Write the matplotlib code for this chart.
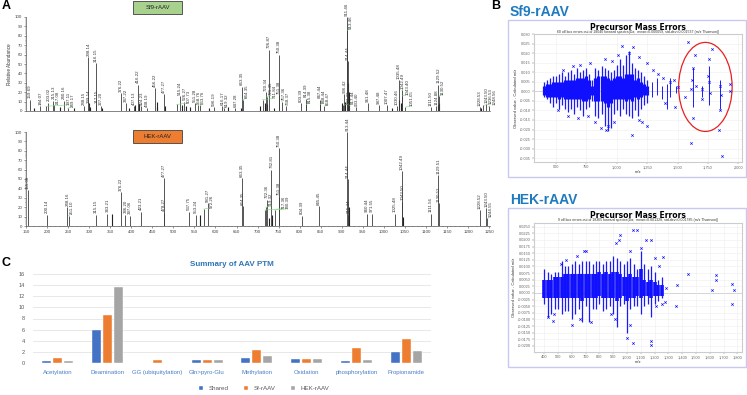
import matplotlib.pyplot as plt
from matplotlib.patches import Rectangle, Ellipse
from matplotlib.ticker import MultipleLocator, FuncFormatter

plt.rcParams['font.family'] = ['Liberation Sans', 'DejaVu Sans']

W, H = 747, 395

# ---------------- data ----------------
# panel A, Sf9-rAAV spectrum (m/z, relative abundance)
sf9_mz = [159.69, 184.07, 197.11, 203.02, 215.13, 217.08, 240.16, 249.17, 288.15, 298.14,
          299.14, 316.15, 317.15, 327.20, 376.22, 387.22, 407.13, 416.22, 424.23, 438.19,
          456.22, 477.27, 507.73, 515.24, 526.27, 551.28, 558.76, 563.76, 596.19, 616.17,
          619.32, 647.28, 663.35, 664.35, 711.84, 720.34, 721.45, 726.87, 750.38, 751.38,
          757.36, 768.37, 803.39, 814.39, 815.38, 847.44, 848.44, 858.47, 903.42, 906.42,
          911.46, 913.46, 914.44, 917.44, 933.40, 961.48, 987.48, 1007.47, 1030.46, 1035.48,
          1042.49, 1043.40, 1051.05, 1111.50, 1124.88, 1129.52, 1130.52, 1228.53, 1236.53,
          1243.50, 1248.56]
sf9_int = [12, 5, 5, 9, 11, 6, 11, 3, 5, 57,
           7, 51, 7, 5, 19, 8, 5, 28, 5, 3,
           24, 18, 7, 16, 10, 8, 6, 6, 4, 5,
           3, 3, 26, 12, 12, 20, 15, 65, 60, 17,
           10, 5, 8, 13, 7, 12, 7, 5, 6, 18,
           100, 86, 53, 6, 4, 8, 6, 6, 5, 33,
           22, 16, 4, 4, 5, 28, 16, 4, 6,
           7, 5]
sf9_noise_mz = [170, 230, 265, 300, 302, 330, 395, 410, 418, 460, 462, 480, 520, 530, 540,
                585, 630, 660, 705, 718, 722, 738, 900, 908, 915, 916, 1020, 1036, 1040,
                1128, 1132, 1230]
sf9_noise_int = [3, 4, 3, 9, 4, 3, 3, 6, 7, 10, 4, 5, 6, 5, 4,
                 3, 4, 3, 5, 8, 7, 3, 8, 10, 30, 20, 3, 12, 8,
                 6, 8, 3]

# panel A, HEK-rAAV spectrum
hek_mz = [155.08, 200.14, 248.16, 251.10, 315.15, 343.21, 376.22, 386.20, 397.06, 423.21,
          477.27, 478.27, 537.75, 553.24, 572.26, 581.27, 663.35, 664.35, 717.36, 719.32,
          722.36, 732.81, 740.39, 750.38, 751.38, 804.39, 845.45, 913.44, 914.44, 915.44,
          960.44, 971.55, 1025.48, 1042.49, 1043.50, 1111.56, 1129.51, 1130.52, 1228.52,
          1243.50, 1244.55]
hek_int = [38, 12, 20, 11, 12, 13, 36, 12, 11, 15,
           51, 14, 15, 12, 18, 24, 51, 21, 17, 20,
           28, 60, 17, 83, 31, 11, 21, 100, 50, 12,
           13, 13, 13, 58, 26, 13, 54, 24, 17,
           19, 8]
hek_noise_mz = [355, 563, 728, 735, 916, 1045]
hek_noise_int = [13, 12, 9, 12, 20, 10]

# panel B, precursor mass errors per m/z bin (x1e-3): dense core and full spread
bin_mz = [400, 425, 450, 475, 500, 525, 550, 575, 600, 625, 650, 675, 700, 725, 750, 775,
          800, 825, 850, 875, 900, 925, 950, 975, 1000, 1025, 1050, 1075, 1100, 1125,
          1150, 1175, 1200, 1225, 1250]

sf9_core_lo = [-2, -3, -3, -3, -3, -4, -3, -4, -4, -4, -4, -4, -4, -5, -5, -4,
               -2, -5, -5, -5, -6, -8, -6, -4, -4, -4, -4, -5, -4, -5,
               -3, -4, -3, -2, -2]
sf9_core_hi = [3, 4, 4, 5, 5, 5, 5, 6, 6, 6, 6, 7, 7, 7, 8, 6,
               3, 7, 8, 8, 8, 7, 6, 7, 8, 8, 7, 9, 9, 9,
               6, 7, 5, 4, 3]
sf9_lo = [-3, -4, -6, -8, -6, -9, -7, -9, -11, -9, -12, -8, -10, -13, -9, -8,
          -5, -13, -14, -12, -18, -21, -19, -12, -10, -13, -9, -12, -13, -14,
          -10, -13, -9, -7, -6]
sf9_hi = [5, 6, 7, 8, 8, 9, 10, 8, 10, 11, 9, 12, 10, 11, 12, 9,
          6, 12, 11, 13, 12, 11, 10, 11, 14, 17, 14, 19, 21, 15,
          12, 11, 10, 8, 6]
sf9_col_mz = [1290, 1330, 1375, 1410, 1440, 1490, 1625, 1700, 1760, 1850]
sf9_col_lo = [-3, -2, -4, -9, -3, -1, -8, -3, -7, -9]
sf9_col_hi = [5, 7, 3, 4, 7, 3, 12, 3, 13, 6]
sf9_out_mz = [1586, 1608, 1867, 1845, 1784, 1647, 1760, 1625, 1630, 1700, 1850, 1935, 1935,
              1124, 868, 908, 925, 1042, 1133, 1100, 1010, 905, 960, 780, 700, 640, 560,
              1180, 1250, 1300, 1340, 1380, 1440, 1470, 1500, 1560, 1480, 1400, 1250, 1210,
              1180, 980, 820, 760, 680, 600, 520, 1750, 1760, 1770, 1650, 1620, 1610, 1700,
              1850, 1855]
sf9_out_err = [0.026, -0.027, -0.034, -0.020, 0.022, 0.019, 0.017, 0.012, -0.014, -0.004,
               -0.010, 0.004, 0.000, -0.023, -0.019, -0.020, -0.018, 0.0235, 0.023, 0.020,
               0.019, 0.017, 0.016, 0.015, 0.014, 0.013, 0.011, 0.018, 0.015, 0.011, 0.009,
               0.007, 0.005, 0.006, 0.002, -0.003, -0.008, -0.006, -0.018, -0.016, -0.015,
               -0.016, -0.016, -0.013, -0.014, -0.013, -0.010, 0.008, 0.005, -0.001, 0.003,
               0.006, 0.001, 0.001, 0.003, -0.002]

hek_core_lo = [-2, -2, -2, -2, -2, -2, -2, -2, -2, -2, -2, -3, -2, -2, -2, -2,
               -1, -2, -2, -2, -2, -3, -2, -1, -3, -2, -2, -1, -2, -1,
               -1, -2, -1, -1, -1]
hek_core_hi = [5, 5, 5, 6, 6, 6, 7, 7, 7, 7, 7, 7, 7, 7, 7, 7,
               8, 7, 8, 7, 8, 8, 7, 6, 6, 7, 6, 6, 9, 5,
               4, 5, 4, 3, 3]
hek_lo = [-4, -9, -8, -6, -6, -8, -7, -7, -10, -8, -6, -11, -5, -11, -6, -6,
          -4, -7, -6, -5, -8, -13, -5, -4, -15, -6, -5, -5, -8, -5,
          -4, -9, -4, -3, -2]
hek_hi = [9, 8, 7, 8, 8, 12, 10, 10, 11, 12, 11, 12, 12, 12, 11, 12,
          12, 11, 12, 12, 14, 13, 12, 11, 12, 13, 11, 9, 16, 11,
          9, 10, 8, 5, 6]
hek_out_mz = [1041, 1070, 1134, 1177, 950, 940, 920, 1045, 1177, 1177, 1000, 1444, 1643, 1643,
              1615, 1760, 1760, 1775, 1360, 1353, 1273, 1262, 1285, 700, 690, 640, 555, 520,
              470, 430, 460, 600, 660, 735, 880, 910, 1020, 1210, 1250, 1200, 1230, 1100, 1020]
hek_out_err = [0.0239, 0.0237, 0.0198, 0.0198, 0.0218, 0.020, 0.019, -0.019, -0.0195, -0.018,
               -0.017, 0.0073, 0.0069, 0.005, 0.001, 0.0035, -0.004, 0.0012, 0.003, -0.005,
               -0.0035, 0.0135, 0.002, 0.016, 0.016, 0.014, 0.0125, 0.011, -0.008, -0.009,
               -0.0105, -0.012, -0.010, -0.011, -0.008, -0.010, -0.012, -0.005, -0.004, 0.013,
               0.010, 0.017, 0.016]

# panel C
ptm_cats = ['Acetylation', 'Deamination', 'GG (ubiquitylation)', 'Gln>pyro-Glu',
            'Methylation', 'Oxidation', 'phosphorylation', 'Propionamide']
shared = [0.3, 6.0, 0, 0.4, 0.8, 0.6, 0.3, 1.9]
sf_raav = [0.8, 8.7, 0.4, 0.4, 2.3, 0.7, 2.6, 4.2]
hek_raav = [0.3, 13.7, 0, 0.4, 1.2, 0.6, 0.4, 2.1]


def box(x0, y0, x1, y1):
    # pixel box -> figure fraction rect
    return [x0 / W, 1 - y1 / H, (x1 - x0) / W, (y1 - y0) / H]


fig = plt.figure(figsize=(W / 100, H / 100), dpi=100)

# ---------------- panel A ----------------
LBL_W = 10   # label thickness in m/z units
LBL_H = 17   # label length in % units


def spectrum(rect, mz, inten, nmz, nint, show_x):
    ax = fig.add_axes(rect)
    ax.vlines(nmz, 0, nint, color='#222222', lw=0.8)
    ax.vlines(mz, 0, inten, color='#3a3a3a', lw=0.6)
    placed = []
    # place labels from tallest peak down, nudging right when they collide
    for m, h in sorted(zip(mz, inten), key=lambda t: -t[1]):
        lx, ly = m, h + 1.5
        for _ in range(50):
            hit = [px for px, py in placed
                   if abs(lx - px) < LBL_W - 0.01 and ly < py + LBL_H and py < ly + LBL_H]
            if not hit:
                break
            lx = max(hit) + LBL_W
        placed.append((lx, ly))
        if abs(lx - m) > 1:
            ax.plot([m, lx], [h, ly], color='#7fd67f', lw=0.4)
        ax.text(lx, ly, f'{m:.2f}', rotation=90, ha='center', va='bottom',
                fontsize=3.2, color='#333333')
    ax.set_xlim(150, 1252)
    ax.set_ylim(0, 100)
    ax.yaxis.set_major_locator(MultipleLocator(10))
    ax.yaxis.set_minor_locator(MultipleLocator(2))
    for s in ['top', 'right']:
        ax.spines[s].set_visible(False)
    for s in ['left', 'bottom']:
        ax.spines[s].set_linewidth(0.5)
        ax.spines[s].set_color('#555555')
    ax.tick_params(labelsize=3.2, length=1.6, width=0.4, pad=1, colors='#444444')
    ax.tick_params(which='minor', length=1.0, width=0.3, colors='#555555')
    if show_x:
        ax.xaxis.set_major_locator(MultipleLocator(50))
        ax.xaxis.set_minor_locator(MultipleLocator(10))
    else:
        ax.set_xticks([])
    return ax


ax_a1 = spectrum(box(26, 17, 490, 111), sf9_mz, sf9_int, sf9_noise_mz, sf9_noise_int, False)
ax_a2 = spectrum(box(26, 132, 490, 226), hek_mz, hek_int, hek_noise_mz, hek_noise_int, True)
fig.text(10 / W, 1 - 64 / H, 'Relative Abundance', rotation=90, fontsize=3.3,
         ha='center', va='center', color='#333333')

fig.patches.append(Rectangle((133 / W, 1 - 14 / H), 49 / W, 13 / H, transform=fig.transFigure,
                             facecolor='#a9d18e', edgecolor='#404040', lw=0.6, zorder=5))
fig.text(157.5 / W, 1 - 7.5 / H, 'Sf9-rAAV', fontsize=4.3, ha='center', va='center',
         color='#222222', zorder=6)
fig.patches.append(Rectangle((133 / W, 1 - 143 / H), 49 / W, 13 / H, transform=fig.transFigure,
                             facecolor='#ed7d31', edgecolor='#404040', lw=0.6, zorder=5))
fig.text(157.5 / W, 1 - 136.5 / H, 'HEK-rAAV', fontsize=4.3, ha='center', va='center',
         color='#222222', zorder=6)

fig.text(2 / W, 1 - 6 / H, 'A', fontsize=9, fontweight='bold', va='center')
fig.text(491 / W, 1 - 6 / H, 'B', fontsize=9, fontweight='bold', va='center')
fig.text(2 / W, 1 - 263 / H, 'C', fontsize=9, fontweight='bold', va='center')


# ---------------- panel B ----------------
def mass_errors(outer, inner, clo, chi, lo, hi, cmz, cl, ch, omz, oerr, xlim, ylim,
                xstep, ystep, ydec, subtitle, core_lw):
    x0, y0, x1, y1 = outer
    fig.patches.append(Rectangle((x0 / W, 1 - y1 / H), (x1 - x0) / W, (y1 - y0) / H,
                                 transform=fig.transFigure, facecolor='none',
                                 edgecolor='#c8c8f0', lw=1.0, zorder=-1))
    ax = fig.add_axes(box(*inner))
    ax.vlines(bin_mz, [v / 1000 for v in lo], [v / 1000 for v in hi], color='#1a1aff', lw=0.9)
    ax.vlines(bin_mz, [v / 1000 for v in clo], [v / 1000 for v in chi], color='#1010ff', lw=core_lw)
    ax.vlines(cmz, [v / 1000 for v in cl], [v / 1000 for v in ch], color='#1a1aff', lw=0.7)
    ax.plot(omz, oerr, 'x', color='#1010ff', ms=1.7, mew=0.5)
    ax.axhline(0, color='#aaaaaa', lw=0.6, zorder=0)
    ax.set_xlim(*xlim)
    ax.set_ylim(*ylim)
    ax.xaxis.set_major_locator(MultipleLocator(xstep))
    ax.yaxis.set_major_locator(MultipleLocator(ystep))
    ax.xaxis.set_major_formatter(FuncFormatter(lambda v, p: f'{v:,.0f}'))
    ax.yaxis.set_major_formatter(FuncFormatter(lambda v, p: f'{v:.{ydec}f}'))
    ax.grid(color='#eeeeee', lw=0.4)
    ax.set_axisbelow(True)
    for s in ax.spines.values():
        s.set_color('#cccccc')
        s.set_linewidth(0.8)
    ax.tick_params(labelsize=2.8, length=1.2, width=0.3, pad=1, colors='#666666')
    ax.set_xlabel('m/z', fontsize=3, labelpad=1, color='#333333')
    ax.set_ylabel('Observed value - Calculated m/z', fontsize=3, labelpad=1.5, color='#333333')
    cx = (inner[0] + inner[2]) / 2
    fig.text(cx / W, 1 - (y0 + 7) / H, 'Precursor Mass Errors', fontsize=5.5,
             fontweight='bold', ha='center', va='center', family='DejaVu Sans')
    fig.text(cx / W, 1 - (y0 + 12.5) / H, subtitle, fontsize=2.5, ha='center', va='center',
             color='#333333')
    return ax


ax_b1 = mass_errors((508, 20, 746, 177), (534, 34, 742, 162),
                    sf9_core_lo, sf9_core_hi, sf9_lo, sf9_hi,
                    sf9_col_mz, sf9_col_lo, sf9_col_hi,
                    sf9_out_mz, sf9_out_err, (320, 2030), (-0.037, 0.030), 250, 0.005, 3,
                    '60 off-box errors out of 18040 forward spectra(Da;  mean=0.000059, '
                    'std-dev=0.001537 (m/z Thomson))', 2.3)
ax_b1.add_patch(Ellipse((1729, 0.0023), 440, 0.0466, facecolor='none', edgecolor='#e82020', lw=0.9))

ax_b2 = mass_errors((508, 208, 746, 367), (534, 223, 742, 352),
                    hek_core_lo, hek_core_hi, hek_lo, hek_hi, [], [], [],
                    hek_out_mz, hek_out_err, (325, 1834), (-0.0223, 0.0264), 100, 0.0025, 4,
                    '9 off-box errors out of 18365 forward spectra(Da;  mean=0.001328, '
                    'std-dev=0.001785 (m/z Thomson))', 2.6)

fig.text(510 / W, 1 - 12 / H, 'Sf9-rAAV', fontsize=10, fontweight='bold', color='#1f7bc0', va='center')
fig.text(510 / W, 1 - 200 / H, 'HEK-rAAV', fontsize=10, fontweight='bold', color='#1f7bc0', va='center')

# ---------------- panel C ----------------
ax_c = fig.add_axes(box(33, 274.3, 431, 362.7))
x = list(range(len(ptm_cats)))
bw = 0.18
sp = 0.221
ax_c.bar([i - sp for i in x], shared, bw, color='#4472c4', edgecolor='white', lw=0.3, label='Shared')
ax_c.bar(x, sf_raav, bw, color='#ed7d31', edgecolor='white', lw=0.3, label='Sf-rAAV')
ax_c.bar([i + sp for i in x], hek_raav, bw, color='#a5a5a5', edgecolor='white', lw=0.3, label='HEK-rAAV')
ax_c.set_xlim(-0.5, len(ptm_cats) - 0.5)
ax_c.set_ylim(0, 16)
ax_c.yaxis.set_major_locator(MultipleLocator(2))
ax_c.grid(axis='y', color='#e4e4e4', lw=0.6)
ax_c.set_axisbelow(True)
for s in ax_c.spines.values():
    s.set_visible(False)
ax_c.axhline(0, color='#d9d9d9', lw=0.6)
ax_c.set_xticks(x)
ax_c.set_xticklabels(ptm_cats, fontsize=4.3, color='#4a7cc8')
ax_c.tick_params(axis='y', labelsize=4, colors='#595959', length=0, pad=6)
ax_c.tick_params(axis='x', length=0, pad=5)
ax_c.set_title('Summary of AAV PTM', fontsize=5.8, fontweight='bold', color='#2e75b6', pad=6)
ax_c.legend(loc='upper center', bbox_to_anchor=(0.58, -0.2), ncol=3, frameon=False,
            fontsize=4.5, handlelength=0.7, handleheight=0.7, columnspacing=2.5,
            labelcolor='#595959')

fig.savefig('out.png', dpi=100)
